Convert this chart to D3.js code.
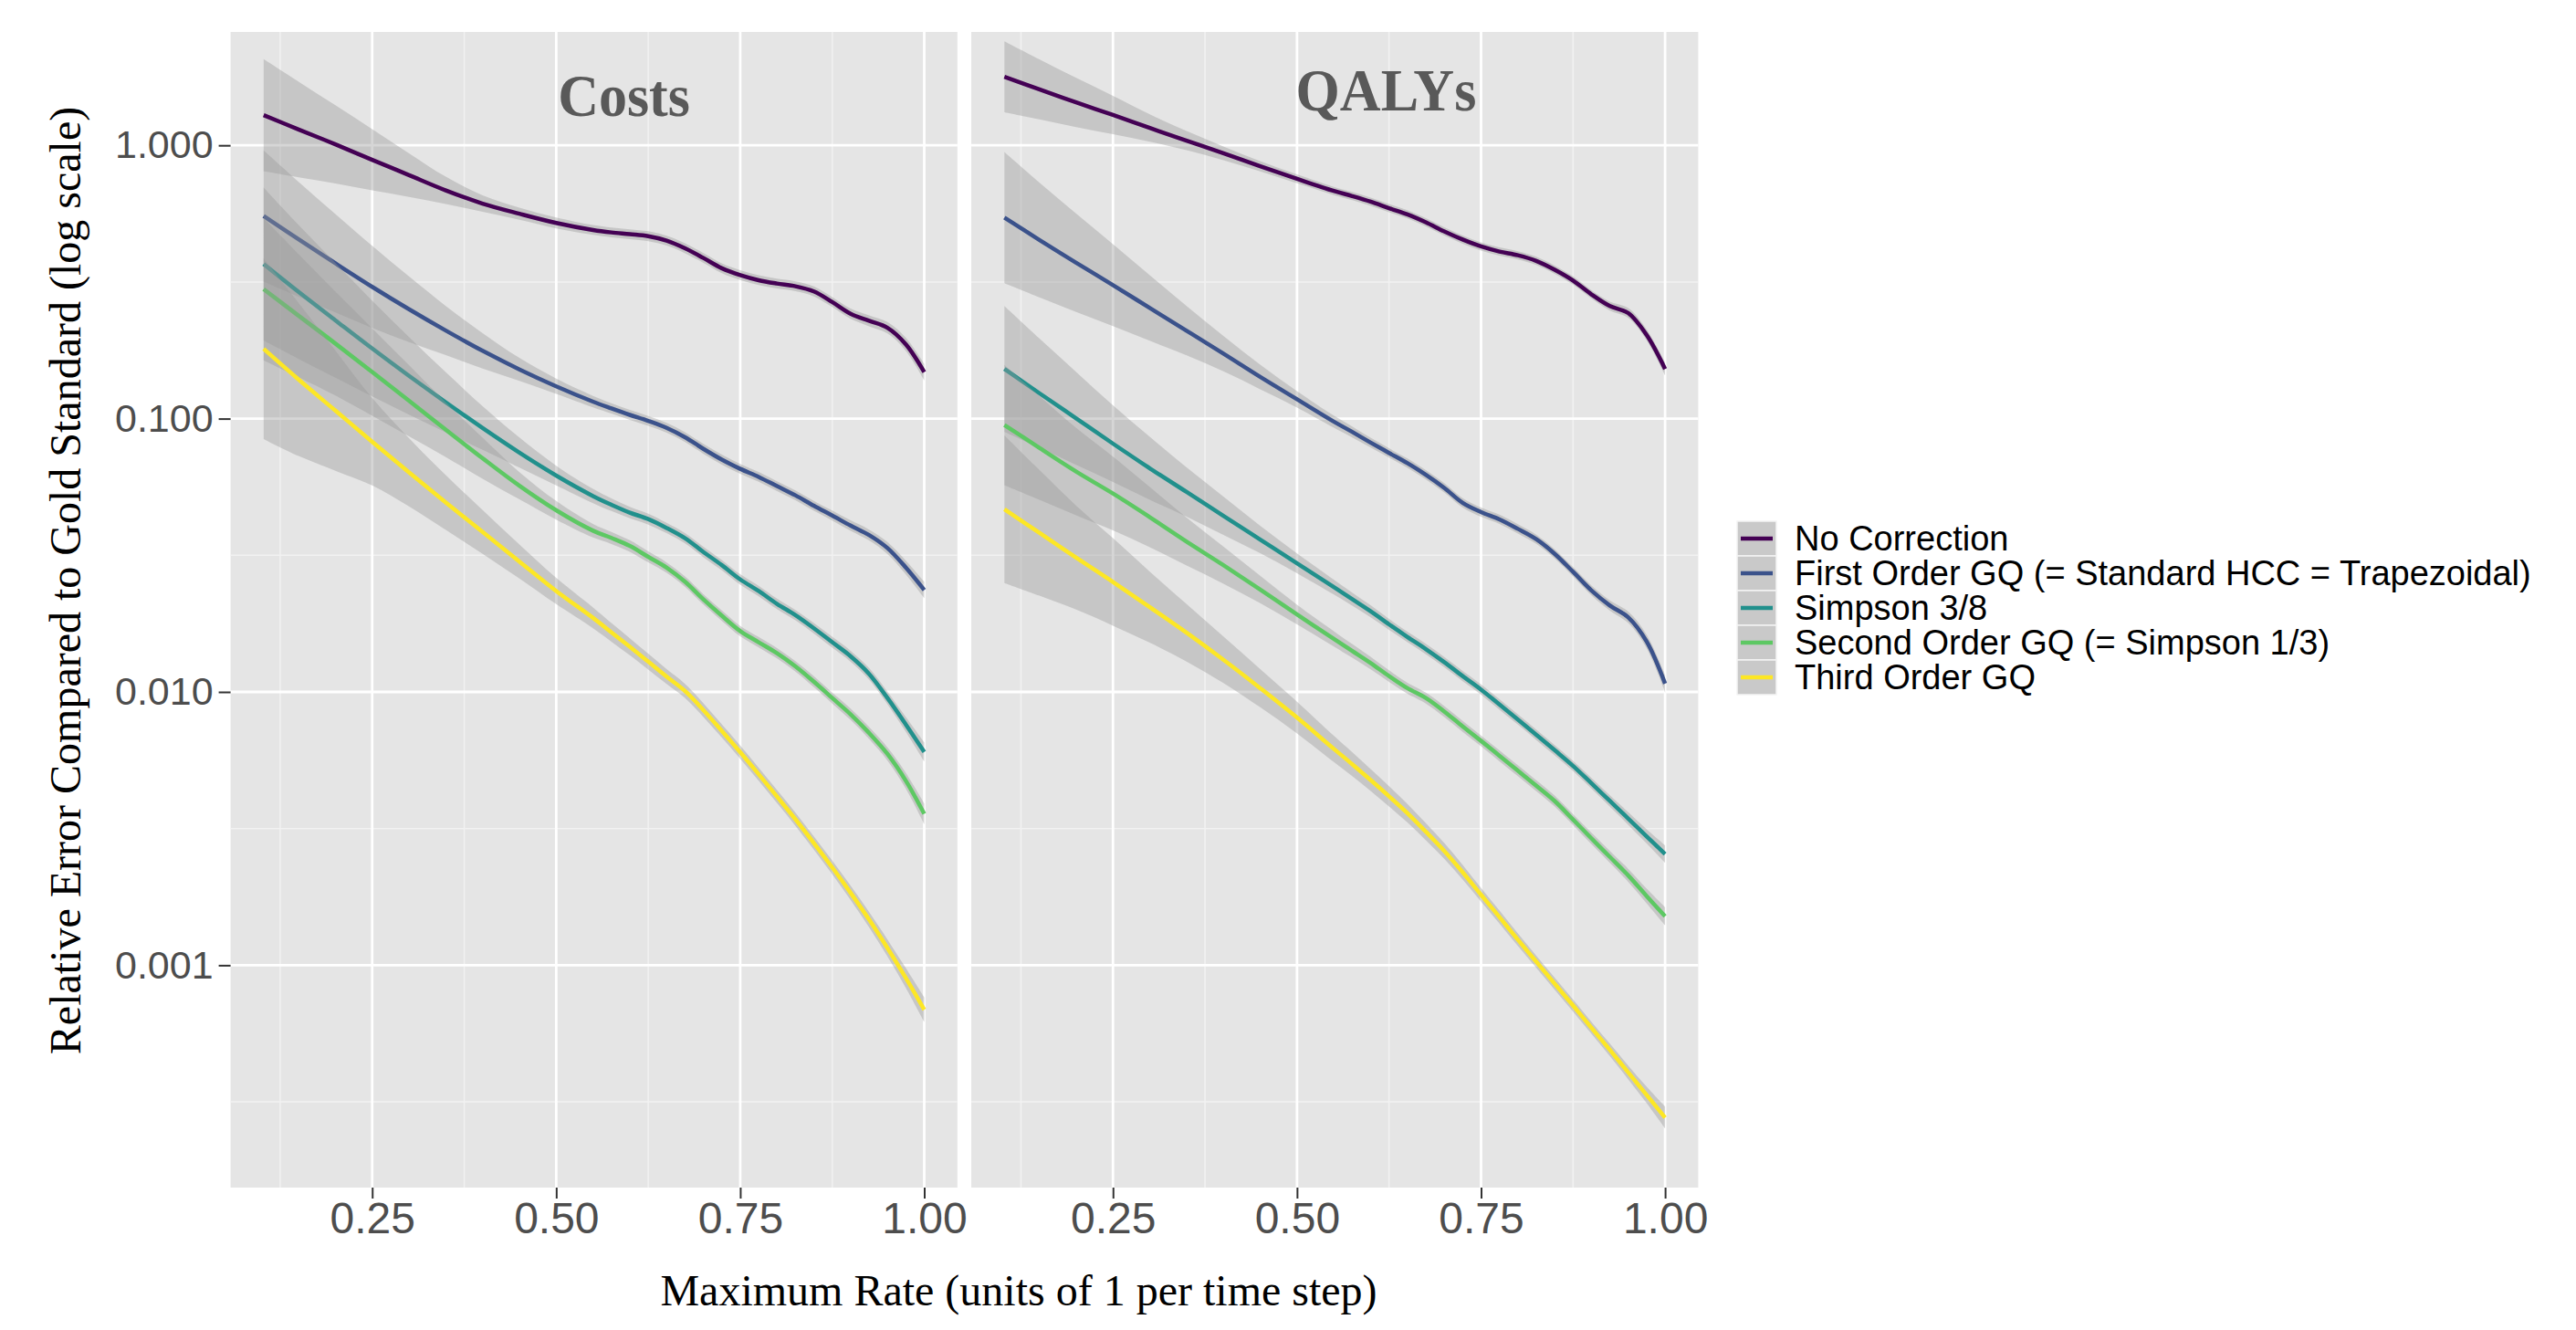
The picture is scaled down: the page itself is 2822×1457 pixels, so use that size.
<!DOCTYPE html>
<html>
<head>
<meta charset="utf-8">
<script src="https://cdn.jsdelivr.net/npm/d3@7"></script>
<style>
  body { margin: 0; background: #fff; }
  svg { display: block; }
</style>
</head>
<body>
<svg id="chart" width="2822" height="1457"></svg>
<script>
// maximum rate (x) at which the smoothed curves were read
const rate = [0.1025, 0.15, 0.2, 0.25, 0.3, 0.35, 0.4, 0.45, 0.5, 0.55, 0.575, 0.6, 0.625, 0.65,
  0.675, 0.7, 0.725, 0.75, 0.775, 0.8, 0.825, 0.85, 0.875, 0.9, 0.925, 0.95, 0.975, 1.0];

const methods = ["No Correction", "First Order GQ (= Standard HCC = Trapezoidal)", "Simpson 3/8",
  "Second Order GQ (= Simpson 1/3)", "Third Order GQ"];
const methodColors = ["#440154", "#3b528b", "#21908c", "#5dc863", "#fde725"];

const panelTitles = ["Costs", "QALYs"];
const yTicks = [1, 0.1, 0.01, 0.001];
const xTicks = [0.25, 0.5, 0.75, 1.0];

// Costs: relative error (smoothed)
const costsNoCorr = [1.290, 1.143, 1.008, 0.885, 0.778, 0.684, 0.612, 0.562, 0.520, 0.490, 0.480, 0.473, 0.465, 0.448,
  0.420, 0.387, 0.355, 0.335, 0.321, 0.312, 0.305, 0.292, 0.267, 0.242, 0.228, 0.215, 0.187, 0.148];
const costsFirst = [0.551, 0.453, 0.370, 0.3035, 0.2513, 0.210, 0.177, 0.1514, 0.1313, 0.1154, 0.109, 0.1032, 0.0981, 0.0925,
  0.0855, 0.0775, 0.0708, 0.0655, 0.0612, 0.0566, 0.0524, 0.048, 0.0442, 0.0406, 0.0375, 0.0336, 0.0285, 0.0236];
const costsS38 = [0.3678, 0.2908, 0.2289, 0.1805, 0.1434, 0.1147, 0.0924, 0.0751, 0.0619, 0.0521, 0.0484, 0.0453, 0.0429, 0.0398,
  0.0365, 0.0325, 0.0291, 0.0258, 0.0234, 0.0210, 0.0191, 0.0171, 0.0152, 0.0135, 0.01165, 0.0095, 0.0076, 0.00603];
const costsSecond = [0.2976, 0.2380, 0.1882, 0.1481, 0.1163, 0.0911, 0.0716, 0.0568, 0.0462, 0.0389, 0.0366, 0.0342, 0.0312, 0.0285,
  0.0253, 0.0218, 0.0190, 0.0167, 0.0152, 0.01385, 0.0124, 0.0109, 0.0095, 0.00828, 0.00708, 0.00593, 0.00473, 0.00358];
const costsThird = [0.180, 0.139, 0.1070, 0.0823, 0.0636, 0.0493, 0.0385, 0.0300, 0.0234, 0.01866, 0.01652, 0.01463, 0.01291, 0.01138,
  0.01008, 0.00858, 0.0072, 0.00602, 0.0050, 0.00414, 0.00342, 0.0028, 0.00228, 0.00184, 0.00147, 0.001157, 0.000898, 0.000688];

// QALYs: relative error (smoothed)
const qalyNoCorr = [1.781, 1.602, 1.435, 1.291, 1.157, 1.040, 0.935, 0.838, 0.754, 0.681, 0.652, 0.622, 0.589, 0.559,
  0.523, 0.484, 0.452, 0.4266, 0.4086, 0.396, 0.3777, 0.3506, 0.320, 0.2847, 0.258, 0.2433, 0.2023, 0.152];
const qalyFirst = [0.544, 0.4507, 0.3718, 0.3079, 0.254, 0.2097, 0.1729, 0.1421, 0.1177, 0.0975, 0.0894, 0.0817, 0.0749, 0.0687,
  0.0623, 0.0558, 0.0492, 0.0455, 0.0428, 0.0395, 0.0362, 0.032, 0.0275, 0.0235, 0.0207, 0.01874, 0.01528, 0.01073];
const qalyS38 = [0.152, 0.1239, 0.1002, 0.0810, 0.0658, 0.0539, 0.0441, 0.0361, 0.02955, 0.02418, 0.02184, 0.01972, 0.01767, 0.01589,
  0.01435, 0.01285, 0.01143, 0.0102, 0.009, 0.00793, 0.00697, 0.00612, 0.00536, 0.00463, 0.00399, 0.00344, 0.00296, 0.00255];
const qalySecond = [0.0948, 0.0782, 0.0640, 0.0532, 0.0436, 0.0355, 0.0291, 0.0237, 0.0192, 0.01565, 0.01413, 0.01276, 0.01143, 0.01032,
  0.0095, 0.00848, 0.00748, 0.00662, 0.00584, 0.00515, 0.00454, 0.00399, 0.00341, 0.00291, 0.00249, 0.00213, 0.00179, 0.00151];
const qalyThird = [0.0466, 0.0382, 0.031, 0.02526, 0.02043, 0.01646, 0.01311, 0.01032, 0.00806, 0.00619, 0.00544, 0.00476, 0.00415, 0.0036,
  0.00308, 0.00262, 0.00219, 0.00181, 0.0015, 0.00124, 0.00103, 0.000856, 0.000712, 0.00059, 0.00049, 0.000405, 0.000335, 0.000277];

// confidence band half widths, in decades (log10 units)
const costsNoCorrCI = [0.205, 0.175, 0.143, 0.112, 0.08, 0.05, 0.03, 0.022, 0.02, 0.018, 0.018, 0.018, 0.018, 0.018,
  0.018, 0.018, 0.018, 0.018, 0.018, 0.018, 0.018, 0.018, 0.018, 0.019, 0.02, 0.021, 0.024, 0.03];
const costsFirstCI = [0.24, 0.21, 0.18, 0.15, 0.12, 0.09, 0.065, 0.042, 0.028, 0.021, 0.019, 0.018, 0.018, 0.018,
  0.018, 0.018, 0.018, 0.018, 0.018, 0.018, 0.018, 0.018, 0.018, 0.019, 0.02, 0.022, 0.025, 0.03];
const costsS38CI = [0.28, 0.245, 0.21, 0.175, 0.142, 0.11, 0.08, 0.055, 0.036, 0.026, 0.023, 0.021, 0.02, 0.019,
  0.019, 0.019, 0.019, 0.019, 0.019, 0.019, 0.019, 0.019, 0.02, 0.02, 0.021, 0.023, 0.027, 0.035];
const costsSecondCI = [0.26, 0.225, 0.19, 0.16, 0.13, 0.1, 0.075, 0.05, 0.034, 0.025, 0.022, 0.021, 0.02, 0.019,
  0.019, 0.019, 0.019, 0.019, 0.019, 0.019, 0.019, 0.02, 0.02, 0.021, 0.022, 0.024, 0.029, 0.038];
const costsThirdCI = [0.33, 0.28, 0.22, 0.16, 0.125, 0.1, 0.08, 0.062, 0.048, 0.038, 0.034, 0.031, 0.029, 0.027,
  0.026, 0.025, 0.024, 0.024, 0.024, 0.024, 0.024, 0.024, 0.025, 0.026, 0.028, 0.031, 0.036, 0.045];
const qalyNoCorrCI = [0.13, 0.11, 0.09, 0.07, 0.05, 0.035, 0.025, 0.019, 0.016, 0.015, 0.015, 0.015, 0.015, 0.015,
  0.015, 0.015, 0.015, 0.015, 0.015, 0.015, 0.015, 0.015, 0.015, 0.015, 0.016, 0.018, 0.02, 0.024];
const qalyFirstCI = [0.24, 0.21, 0.18, 0.15, 0.12, 0.09, 0.065, 0.045, 0.03, 0.022, 0.02, 0.018, 0.017, 0.017,
  0.017, 0.017, 0.017, 0.017, 0.017, 0.017, 0.017, 0.017, 0.017, 0.018, 0.019, 0.021, 0.025, 0.032];
const qalyS38CI = [0.23, 0.2, 0.17, 0.14, 0.115, 0.09, 0.07, 0.05, 0.036, 0.027, 0.024, 0.022, 0.02, 0.019,
  0.019, 0.019, 0.019, 0.019, 0.019, 0.019, 0.019, 0.019, 0.019, 0.02, 0.021, 0.023, 0.026, 0.032];
const qalySecondCI = [0.22, 0.19, 0.16, 0.135, 0.11, 0.088, 0.068, 0.05, 0.036, 0.028, 0.025, 0.023, 0.021, 0.02,
  0.02, 0.02, 0.02, 0.02, 0.02, 0.02, 0.02, 0.02, 0.02, 0.021, 0.022, 0.024, 0.027, 0.033];
const qalyThirdCI = [0.27, 0.23, 0.19, 0.16, 0.13, 0.105, 0.085, 0.07, 0.058, 0.048, 0.044, 0.04, 0.037, 0.034,
  0.031, 0.029, 0.027, 0.025, 0.024, 0.023, 0.022, 0.022, 0.022, 0.022, 0.023, 0.025, 0.03, 0.04];

const panels = [
  { title: panelTitles[0], titleAt: 0.592, titleBase: 127,
    values: [costsNoCorr, costsFirst, costsS38, costsSecond, costsThird],
    ci: [costsNoCorrCI, costsFirstCI, costsS38CI, costsSecondCI, costsThirdCI] },
  { title: panelTitles[1], titleAt: 0.621, titleBase: 121,
    values: [qalyNoCorr, qalyFirst, qalyS38, qalySecond, qalyThird],
    ci: [qalyNoCorrCI, qalyFirstCI, qalyS38CI, qalySecondCI, qalyThirdCI] }
];

const sans = "'Liberation Sans', Arial, sans-serif";
const serif = "'Liberation Serif', 'Times New Roman', serif";

const svg = d3.select("#chart");
svg.append("rect").attr("width", 2822).attr("height", 1457).attr("fill", "#fff");

const panelTop = 35, panelBottom = 1301;
const panelX = [[252.6, 1048.8], [1064.1, 1860.4]];

const y = d3.scaleLog().domain([0.0001536, 2.599]).range([panelBottom, panelTop]);
const yMinor = [-0.5, -1.5, -2.5, -3.5].map(e => Math.pow(10, e));
const xMinor = [0.125, 0.375, 0.625, 0.875];

panels.forEach((p, i) => {
  const x = d3.scaleLinear().domain([0.0576, 1.045]).range(panelX[i]);
  const g = svg.append("g");
  const [x0, x1] = x.range();

  g.append("rect")
    .attr("x", x0).attr("y", panelTop)
    .attr("width", x1 - x0).attr("height", panelBottom - panelTop)
    .attr("fill", "#e5e5e5");

  // grid
  g.selectAll(".ymin").data(yMinor).join("line")
    .attr("x1", x0).attr("x2", x1).attr("y1", d => y(d)).attr("y2", d => y(d))
    .attr("stroke", "#f2f2f2").attr("stroke-width", 1.5);
  g.selectAll(".xmin").data(xMinor).join("line")
    .attr("y1", panelTop).attr("y2", panelBottom).attr("x1", d => x(d)).attr("x2", d => x(d))
    .attr("stroke", "#f2f2f2").attr("stroke-width", 1.5);
  g.selectAll(".ymaj").data(yTicks).join("line")
    .attr("x1", x0).attr("x2", x1).attr("y1", d => y(d)).attr("y2", d => y(d))
    .attr("stroke", "#fff").attr("stroke-width", 2.8);
  g.selectAll(".xmaj").data(xTicks).join("line")
    .attr("y1", panelTop).attr("y2", panelBottom).attr("x1", d => x(d)).attr("x2", d => x(d))
    .attr("stroke", "#fff").attr("stroke-width", 2.8);

  g.append("clipPath").attr("id", "clip" + i)
    .append("rect").attr("x", x0).attr("y", panelTop)
    .attr("width", x1 - x0).attr("height", panelBottom - panelTop);

  const plot = g.append("g").attr("clip-path", "url(#clip" + i + ")");

  const area = d3.area()
    .x(d => x(d.r))
    .y0(d => y(d.v / Math.pow(10, d.h)))
    .y1(d => y(d.v * Math.pow(10, d.h)))
    .curve(d3.curveCatmullRom);
  const line = d3.line()
    .x(d => x(d.r))
    .y(d => y(d.v))
    .curve(d3.curveCatmullRom);

  p.values.forEach((vals, k) => {
    const pts = rate.map((r, j) => ({ r: r, v: vals[j], h: p.ci[k][j] }));
    plot.append("path").attr("d", area(pts))
      .attr("fill", "#999999").attr("fill-opacity", 0.4);
    plot.append("path").attr("d", line(pts))
      .attr("fill", "none").attr("stroke", methodColors[k])
      .attr("stroke-width", 4.5).attr("stroke-linejoin", "round");
  });

  // panel title
  g.append("text")
    .attr("transform", "translate(" + x(p.titleAt) + "," + p.titleBase + ") scale(0.94,1)")
    .attr("text-anchor", "middle")
    .attr("font-family", serif).attr("font-weight", "bold")
    .attr("font-size", 66).attr("fill", "#595959")
    .text(p.title);

  // x axis
  const xAxis = g.append("g").attr("transform", "translate(0," + panelBottom + ")")
    .call(d3.axisBottom(x).tickValues(xTicks).tickFormat(d3.format(".2f")).tickSize(12).tickPadding(4));
  xAxis.select(".domain").remove();
  xAxis.selectAll(".tick line").attr("stroke", "#333").attr("stroke-width", 2);
  xAxis.selectAll(".tick text").attr("fill", "#4d4d4d")
    .attr("font-family", sans).attr("font-size", 48);

  if (i === 0) {
    const yAxis = g.append("g").attr("transform", "translate(" + x0 + ",0)")
      .call(d3.axisLeft(y).tickValues(yTicks).tickFormat(d3.format(".3f")).tickSize(13).tickPadding(6));
    yAxis.select(".domain").remove();
    yAxis.selectAll(".tick line").attr("stroke", "#333").attr("stroke-width", 2);
    yAxis.selectAll(".tick text").attr("fill", "#4d4d4d")
      .attr("font-family", sans).attr("font-size", 43);
  }
});

// axis titles
svg.append("text")
  .attr("x", 1116).attr("y", 1430)
  .attr("text-anchor", "middle")
  .attr("font-family", serif).attr("font-size", 48).attr("fill", "#000")
  .text("Maximum Rate (units of 1 per time step)");

svg.append("text")
  .attr("transform", "translate(88,636) rotate(-90)")
  .attr("text-anchor", "middle")
  .attr("font-family", serif).attr("font-size", 48).attr("fill", "#000")
  .text("Relative Error Compared to Gold Standard (log scale)");

// legend
const rowH = 38;
const legend = svg.append("g").attr("transform", "translate(1903,571)");
const rows = legend.selectAll("g").data(methods).join("g")
  .attr("transform", (d, i) => "translate(0," + i * rowH + ")");
rows.append("rect")
  .attr("width", 43).attr("height", rowH)
  .attr("fill", "#c9c9c9").attr("stroke", "#f4f4f4").attr("stroke-width", 1.5);
rows.append("line")
  .attr("x1", 4).attr("x2", 39).attr("y1", rowH / 2).attr("y2", rowH / 2)
  .attr("stroke", (d, i) => methodColors[i]).attr("stroke-width", 4.5);
rows.append("text")
  .attr("x", 63).attr("y", rowH / 2).attr("dy", "0.35em")
  .attr("font-family", sans).attr("font-size", 38).attr("fill", "#000")
  .text(d => d);
</script>
</body>
</html>
